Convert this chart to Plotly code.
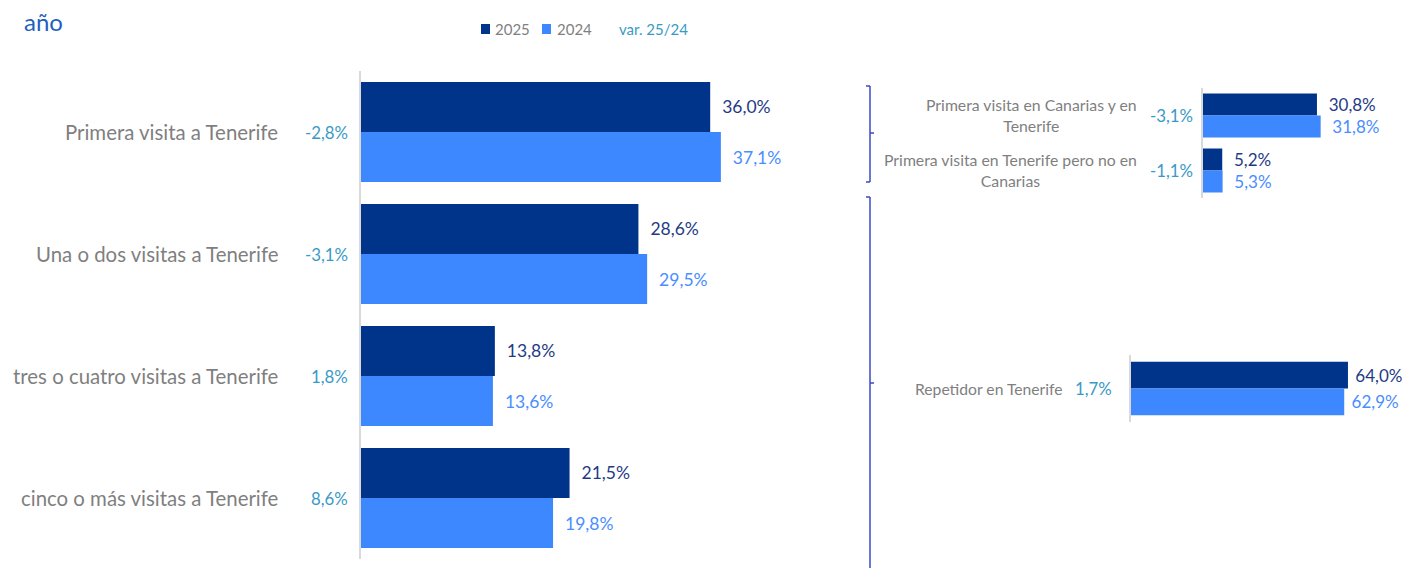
import plotly.graph_objects as go

# ---------------- data ----------------
left_cats = ["Primera visita a Tenerife", "Una o dos visitas a Tenerife",
             "tres o cuatro visitas a Tenerife", "cinco o más visitas a Tenerife"]
left_2025 = [36.0, 28.6, 13.8, 21.5]
left_2024 = [37.1, 29.5, 13.6, 19.8]
left_var = [-2.8, -3.1, 1.8, 8.6]

top_cats = ["Primera visita en Canarias y en<br>Tenerife",
            "Primera visita en Tenerife pero no en<br>Canarias"]
top_2025 = [30.8, 5.2]
top_2024 = [31.8, 5.3]
top_var = [-3.1, -1.1]

rep_cats = ["Repetidor en Tenerife"]
rep_2025 = [64.0]
rep_2024 = [62.9]
rep_var = [1.7]

series_names = ["2025", "2024"]

# ---------------- style ----------------
C25 = "#00338A"
C24 = "#3D88FF"
T25 = "#1F3B85"
T24 = "#4A8DFF"
CVAR = "#3A9AC6"
CGRAY = "#7F7F7F"
FONT = "Lato, Noto Sans, sans-serif"
OFF = 8            # page body margin
FW, FH = 1420 - OFF, 568 - OFF


def fmt(v):
    return f"{v:.1f}%".replace(".", ",")


def px(x):
    return (x - OFF) / FW


def py(y):
    return 1 - (y - OFF) / FH


fig = go.Figure()


def add_group(cats, v25, v24, xa, ya, w, size, pad):
    for vals, name, mc, tc, off in ((v25, series_names[0], C25, T25, -w),
                                    (v24, series_names[1], C24, T24, 0)):
        fig.add_trace(go.Bar(
            y=cats, x=vals, orientation="h", name=name, marker_color=mc,
            marker_line_width=0,
            width=w, offset=off, xaxis=xa, yaxis=ya, showlegend=False,
            text=[pad + fmt(v) for v in vals], textposition="outside",
            textfont=dict(color=tc, size=size, family=FONT), cliponaxis=False,
            constraintext="none"))


add_group(left_cats, left_2025, left_2024, "x", "y", 0.41, 17.5, "  ")
add_group(top_cats, top_2025, top_2024, "x2", "y2", 0.40, 17, "  ")
add_group(rep_cats, rep_2025, rep_2024, "x3", "y3", 0.40, 17, " ")

axis_common = dict(visible=False, fixedrange=True)
yax_common = dict(type="category", autorange="reversed", showticklabels=False,
                  showline=True, linecolor="#D9D9D9", linewidth=2, ticks="",
                  showgrid=False, zeroline=False)

fig.update_layout(
    width=FW, height=FH, margin=dict(l=0, r=0, t=0, b=0),
    paper_bgcolor="white", plot_bgcolor="white",
    barmode="overlay", showlegend=False,
    font=dict(family=FONT, color=CGRAY),
    xaxis=dict(domain=[px(361), px(361 + 9.7 * 50)], range=[0, 50], **axis_common),
    yaxis=dict(domain=[py(559), py(71)], anchor="x", **yax_common),
    xaxis2=dict(domain=[px(1203), px(1203 + 3.7 * 50)], range=[0, 50], anchor="y2", **axis_common),
    yaxis2=dict(domain=[py(198), py(88)], anchor="x2", **yax_common),
    xaxis3=dict(domain=[px(1131), px(1131 + 3.39 * 80)], range=[0, 80], anchor="y3", **axis_common),
    yaxis3=dict(domain=[py(422), py(355)], anchor="x3", **yax_common),
)

ann = []
shapes = []
# title
ann.append(dict(text="año", x=px(22), y=py(21), xref="paper", yref="paper",
                xanchor="left", yanchor="middle", showarrow=False,
                font=dict(size=24, color="#1F5FBF", family=FONT)))
# legend (squares + labels)
for name, col, sx, tx in ((series_names[0], C25, 481, 493), (series_names[1], C24, 542, 555)):
    shapes.append(dict(type="rect", xref="paper", yref="paper",
                       x0=px(sx), x1=px(sx + 9), y0=py(34), y1=py(24),
                       fillcolor=col, line=dict(width=0)))
    ann.append(dict(text=name, x=px(tx), y=py(29), xref="paper", yref="paper",
                    xanchor="left", yanchor="middle", showarrow=False,
                    font=dict(size=15, color=CGRAY, family=FONT)))
ann.append(dict(text="var. 25/24", x=px(617), y=py(29), xref="paper", yref="paper",
                xanchor="left", yanchor="middle", showarrow=False,
                font=dict(size=15, color=CVAR, family=FONT)))

for c, v in zip(left_cats, left_var):
    ann.append(dict(text=c, x=px(280), y=c, xref="paper", yref="y", xanchor="right",
                    yanchor="middle", showarrow=False,
                    font=dict(size=20.4, color=CGRAY, family=FONT)))
    ann.append(dict(text=fmt(v), x=px(350), y=c, xref="paper", yref="y", xanchor="right",
                    yanchor="middle", showarrow=False,
                    font=dict(size=16.8, color=CVAR, family=FONT)))

for c, v in zip(top_cats, top_var):
    ann.append(dict(text=c, x=px(1139), y=c, xref="paper", yref="y2", xanchor="right",
                    yanchor="middle", showarrow=False, align="center",
                    font=dict(size=15.8, color=CGRAY, family=FONT)))
    ann.append(dict(text=fmt(v), x=px(1195), y=c, xref="paper", yref="y2", xanchor="right",
                    yanchor="middle", showarrow=False,
                    font=dict(size=16.8, color=CVAR, family=FONT)))

for c, v in zip(rep_cats, rep_var):
    ann.append(dict(text=c, x=px(1065), y=c, xref="paper", yref="y3", xanchor="right",
                    yanchor="middle", showarrow=False,
                    font=dict(size=15.7, color=CGRAY, family=FONT)))
    ann.append(dict(text=fmt(v), x=px(1114), y=c, xref="paper", yref="y3", xanchor="right",
                    yanchor="middle", showarrow=False,
                    font=dict(size=16.8, color=CVAR, family=FONT)))

fig.update_layout(annotations=ann)

# brackets (decorative)
BC = "#3B48C6"
def line(x0, y0, x1, y1):
    return dict(type="line", xref="paper", yref="paper", x0=px(x0), y0=py(y0),
                x1=px(x1), y1=py(y1), line=dict(color=BC, width=1.5))

shapes += [
    line(870, 86, 870, 182), line(866, 86, 870, 86), line(866, 182, 870, 182),
    line(870, 133, 874, 133),
    line(870, 197, 870, 568), line(866, 197, 870, 197), line(870, 383, 874, 383),
]
fig.update_layout(shapes=shapes)

fig.write_html("out.html")
